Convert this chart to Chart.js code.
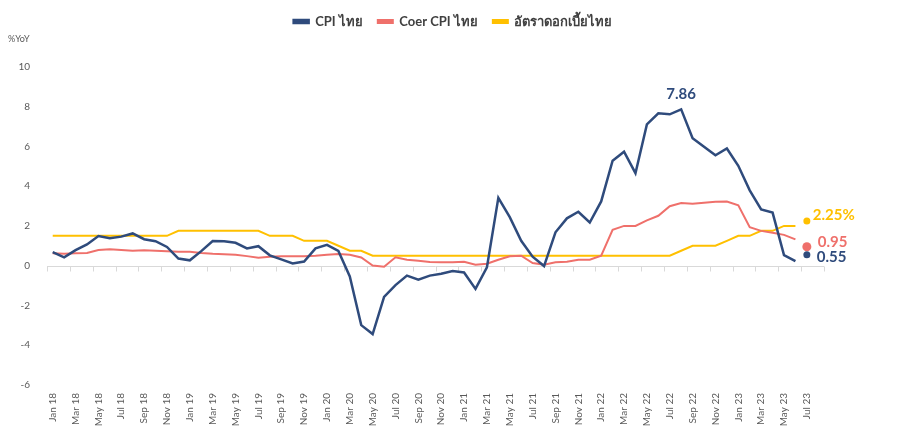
<!DOCTYPE html>
<html>
<head>
<meta charset="utf-8">
<script src="https://cdn.jsdelivr.net/npm/chart.js@4.4.1/dist/chart.umd.min.js"></script>
<style>
  html, body { margin: 0; padding: 0; background: #ffffff; }
  #wrap { width: 898px; height: 428px; position: relative; }
</style>
</head>
<body>
<div id="wrap"><canvas id="c" width="898" height="428"></canvas></div>
<script>
// ---------- data ----------
const months = [
  'Jan 18','Feb 18','Mar 18','Apr 18','May 18','Jun 18','Jul 18','Aug 18','Sep 18','Oct 18','Nov 18','Dec 18',
  'Jan 19','Feb 19','Mar 19','Apr 19','May 19','Jun 19','Jul 19','Aug 19','Sep 19','Oct 19','Nov 19','Dec 19',
  'Jan 20','Feb 20','Mar 20','Apr 20','May 20','Jun 20','Jul 20','Aug 20','Sep 20','Oct 20','Nov 20','Dec 20',
  'Jan 21','Feb 21','Mar 21','Apr 21','May 21','Jun 21','Jul 21','Aug 21','Sep 21','Oct 21','Nov 21','Dec 21',
  'Jan 22','Feb 22','Mar 22','Apr 22','May 22','Jun 22','Jul 22','Aug 22','Sep 22','Oct 22','Nov 22','Dec 22',
  'Jan 23','Feb 23','Mar 23','Apr 23','May 23','Jun 23','Jul 23','Aug 23'
];

const cpiThai = [
  0.68, 0.42, 0.78, 1.07, 1.49, 1.38, 1.46, 1.62, 1.33, 1.23, 0.94, 0.36,
  0.27, 0.73, 1.24, 1.23, 1.15, 0.87, 0.98, 0.52, 0.32, 0.11, 0.21, 0.87,
  1.05, 0.74, -0.54, -2.99, -3.44, -1.57, -0.98, -0.50, -0.70, -0.50, -0.41, -0.27,
  -0.34, -1.17, -0.08, 3.41, 2.44, 1.25, 0.45, -0.02, 1.68, 2.38, 2.71, 2.17,
  3.23, 5.28, 5.73, 4.65, 7.10, 7.66, 7.61, 7.86, 6.41, 5.98, 5.55, 5.89,
  5.02, 3.79, 2.83, 2.67, 0.53, 0.23, null, null
];

const coreCpiThai = [
  0.62, 0.60, 0.62, 0.64, 0.79, 0.82, 0.79, 0.75, 0.78, 0.75, 0.72, 0.70,
  0.70, 0.64, 0.60, 0.58, 0.55, 0.48, 0.40, 0.45, 0.47, 0.47, 0.47, 0.50,
  0.55, 0.59, 0.55, 0.41, 0.01, -0.05, 0.42, 0.30, 0.25, 0.19, 0.17, 0.17,
  0.20, 0.05, 0.10, 0.30, 0.47, 0.50, 0.13, 0.05, 0.17, 0.20, 0.30, 0.30,
  0.50, 1.80, 2.00, 2.00, 2.28, 2.51, 2.99, 3.15, 3.12, 3.17, 3.22, 3.23,
  3.04, 1.93, 1.75, 1.66, 1.55, 1.32, null, null
];

const policyRateThai = [
  1.5, 1.5, 1.5, 1.5, 1.5, 1.5, 1.5, 1.5, 1.5, 1.5, 1.5, 1.75,
  1.75, 1.75, 1.75, 1.75, 1.75, 1.75, 1.75, 1.5, 1.5, 1.5, 1.25, 1.25,
  1.25, 1.0, 0.75, 0.75, 0.5, 0.5, 0.5, 0.5, 0.5, 0.5, 0.5, 0.5,
  0.5, 0.5, 0.5, 0.5, 0.5, 0.5, 0.5, 0.5, 0.5, 0.5, 0.5, 0.5,
  0.5, 0.5, 0.5, 0.5, 0.5, 0.5, 0.5, 0.75, 1.0, 1.0, 1.0, 1.25,
  1.5, 1.5, 1.75, 1.75, 2.0, 2.0, null, null
];

const seriesNames = ['CPI ไทย', 'Coer CPI ไทย', 'อัตราดอกเบี้ยไทย'];
const endMonth = 'Jul 23';
const endValues = [0.55, 0.95, 2.25];
const endLabels = ['0.55', '0.95', '2.25%'];
const yTicks = [-6, -4, -2, 0, 2, 4, 6, 8, 10];

// ---------- style ----------
const NAVY = '#2F4B7C';
const SALMON = '#EF706B';
const GOLD = '#FFC000';
const TXT = '#595959';
const FONT = 'Lato, "Noto Sans", "DejaVu Sans", sans-serif';

const endIdx = months.indexOf(endMonth);
function dotData(v) {
  const arr = months.map(() => null);
  arr[endIdx] = v;
  return arr;
}

const zeroAxis = {
  id: 'zeroAxis',
  beforeDatasetsDraw(chart) {
    const { ctx, chartArea, scales: { x, y } } = chart;
    const y0 = Math.round(y.getPixelForValue(0)) + 0.5;
    const half = (x.getPixelForValue(1) - x.getPixelForValue(0)) / 2;
    ctx.save();
    ctx.strokeStyle = '#D9D9D9';
    ctx.lineWidth = 1;
    ctx.beginPath();
    ctx.moveTo(chartArea.left, y0);
    ctx.lineTo(chartArea.right, y0);
    for (let i = 0; i <= months.length; i += 2) {
      const xp = Math.round(x.getPixelForValue(0) - half + i * 2 * half) + 0.5;
      ctx.moveTo(xp, y0);
      ctx.lineTo(xp, y0 + 5);
    }
    ctx.stroke();
    ctx.restore();
  }
};

const annotate = {
  id: 'annotate',
  afterDatasetsDraw(chart) {
    const { ctx, scales: { x, y } } = chart;
    ctx.save();
    // peak label
    const vals = cpiThai.filter(v => v !== null);
    const peak = Math.max(...vals);
    const pi = cpiThai.indexOf(peak);
    ctx.font = 'bold 15px ' + FONT;
    ctx.fillStyle = NAVY;
    ctx.textAlign = 'center';
    ctx.textBaseline = 'middle';
    ctx.fillText(peak.toFixed(2), x.getPixelForValue(pi), y.getPixelForValue(peak) - 15);
    // end labels
    const colors = [NAVY, SALMON, GOLD];
    const dx = [10, 11, 6];
    const dy = [2, -5, -6];
    ctx.textAlign = 'left';
    endValues.forEach((v, k) => {
      ctx.fillStyle = colors[k];
      ctx.fillText(endLabels[k], x.getPixelForValue(endIdx) + dx[k], y.getPixelForValue(v) + dy[k]);
    });
    ctx.restore();
  }
};

new Chart(document.getElementById('c'), {
  type: 'line',
  data: {
    labels: months,
    datasets: [
      { label: seriesNames[0], data: cpiThai, borderColor: NAVY, backgroundColor: NAVY, borderWidth: 2.5, pointRadius: 0, tension: 0 },
      { label: seriesNames[1], data: coreCpiThai, borderColor: SALMON, backgroundColor: SALMON, borderWidth: 2, pointRadius: 0, tension: 0 },
      { label: seriesNames[2], data: policyRateThai, borderColor: GOLD, backgroundColor: GOLD, borderWidth: 2, pointRadius: 0, tension: 0 },
      { label: 'endCpi', data: dotData(endValues[0]), showLine: false, pointRadius: 3.5, pointBackgroundColor: NAVY, pointBorderWidth: 0 },
      { label: 'endCore', data: dotData(endValues[1]), showLine: false, pointRadius: 4.5, pointBackgroundColor: SALMON, pointBorderWidth: 0 },
      { label: 'endRate', data: dotData(endValues[2]), showLine: false, pointRadius: 3.5, pointBackgroundColor: GOLD, pointBorderWidth: 0 }
    ]
  },
  options: {
    responsive: false,
    animation: false,
    devicePixelRatio: 1,
    layout: { padding: { left: 8, right: 0, top: 0, bottom: 0 } },
    plugins: {
      legend: {
        display: true,
        position: 'top',
        labels: {
          filter: (item) => seriesNames.includes(item.text),
          boxWidth: 15,
          boxHeight: 3,
          padding: 15,
          color: '#404040',
          font: { family: FONT, size: 13, weight: 'bold' }
        }
      },
      subtitle: {
        display: true,
        text: '%YoY',
        align: 'start',
        weight: 500,
        color: TXT,
        font: { family: FONT, size: 9 },
        padding: { top: -4, bottom: 22 }
      },
      tooltip: { enabled: false }
    },
    scales: {
      x: {
        type: 'category',
        offset: true,
        grid: { display: false },
        border: { display: false },
        ticks: {
          autoSkip: false,
          minRotation: 90,
          maxRotation: 90,
          padding: 0,
          color: TXT,
          font: { family: FONT, size: 10 },
          callback: function (val, index) { return index % 2 === 0 ? this.getLabelForValue(val) : ''; }
        },
        afterFit: (s) => { s.height = 43; }
      },
      y: {
        min: -6,
        max: 10,
        grid: { display: false },
        border: { display: false },
        afterBuildTicks: (s) => { s.ticks = yTicks.map(v => ({ value: v })); },
        ticks: { padding: 9, color: TXT, font: { family: FONT, size: 10 } },
        afterFit: (s) => { s.width = 39; }
      },
      y2: {
        position: 'right',
        min: -6,
        max: 10,
        display: true,
        grid: { display: false },
        border: { display: false },
        ticks: { display: false },
        afterFit: (s) => { s.width = 74; }
      }
    }
  },
  plugins: [zeroAxis, annotate]
});
</script>
</body>
</html>
